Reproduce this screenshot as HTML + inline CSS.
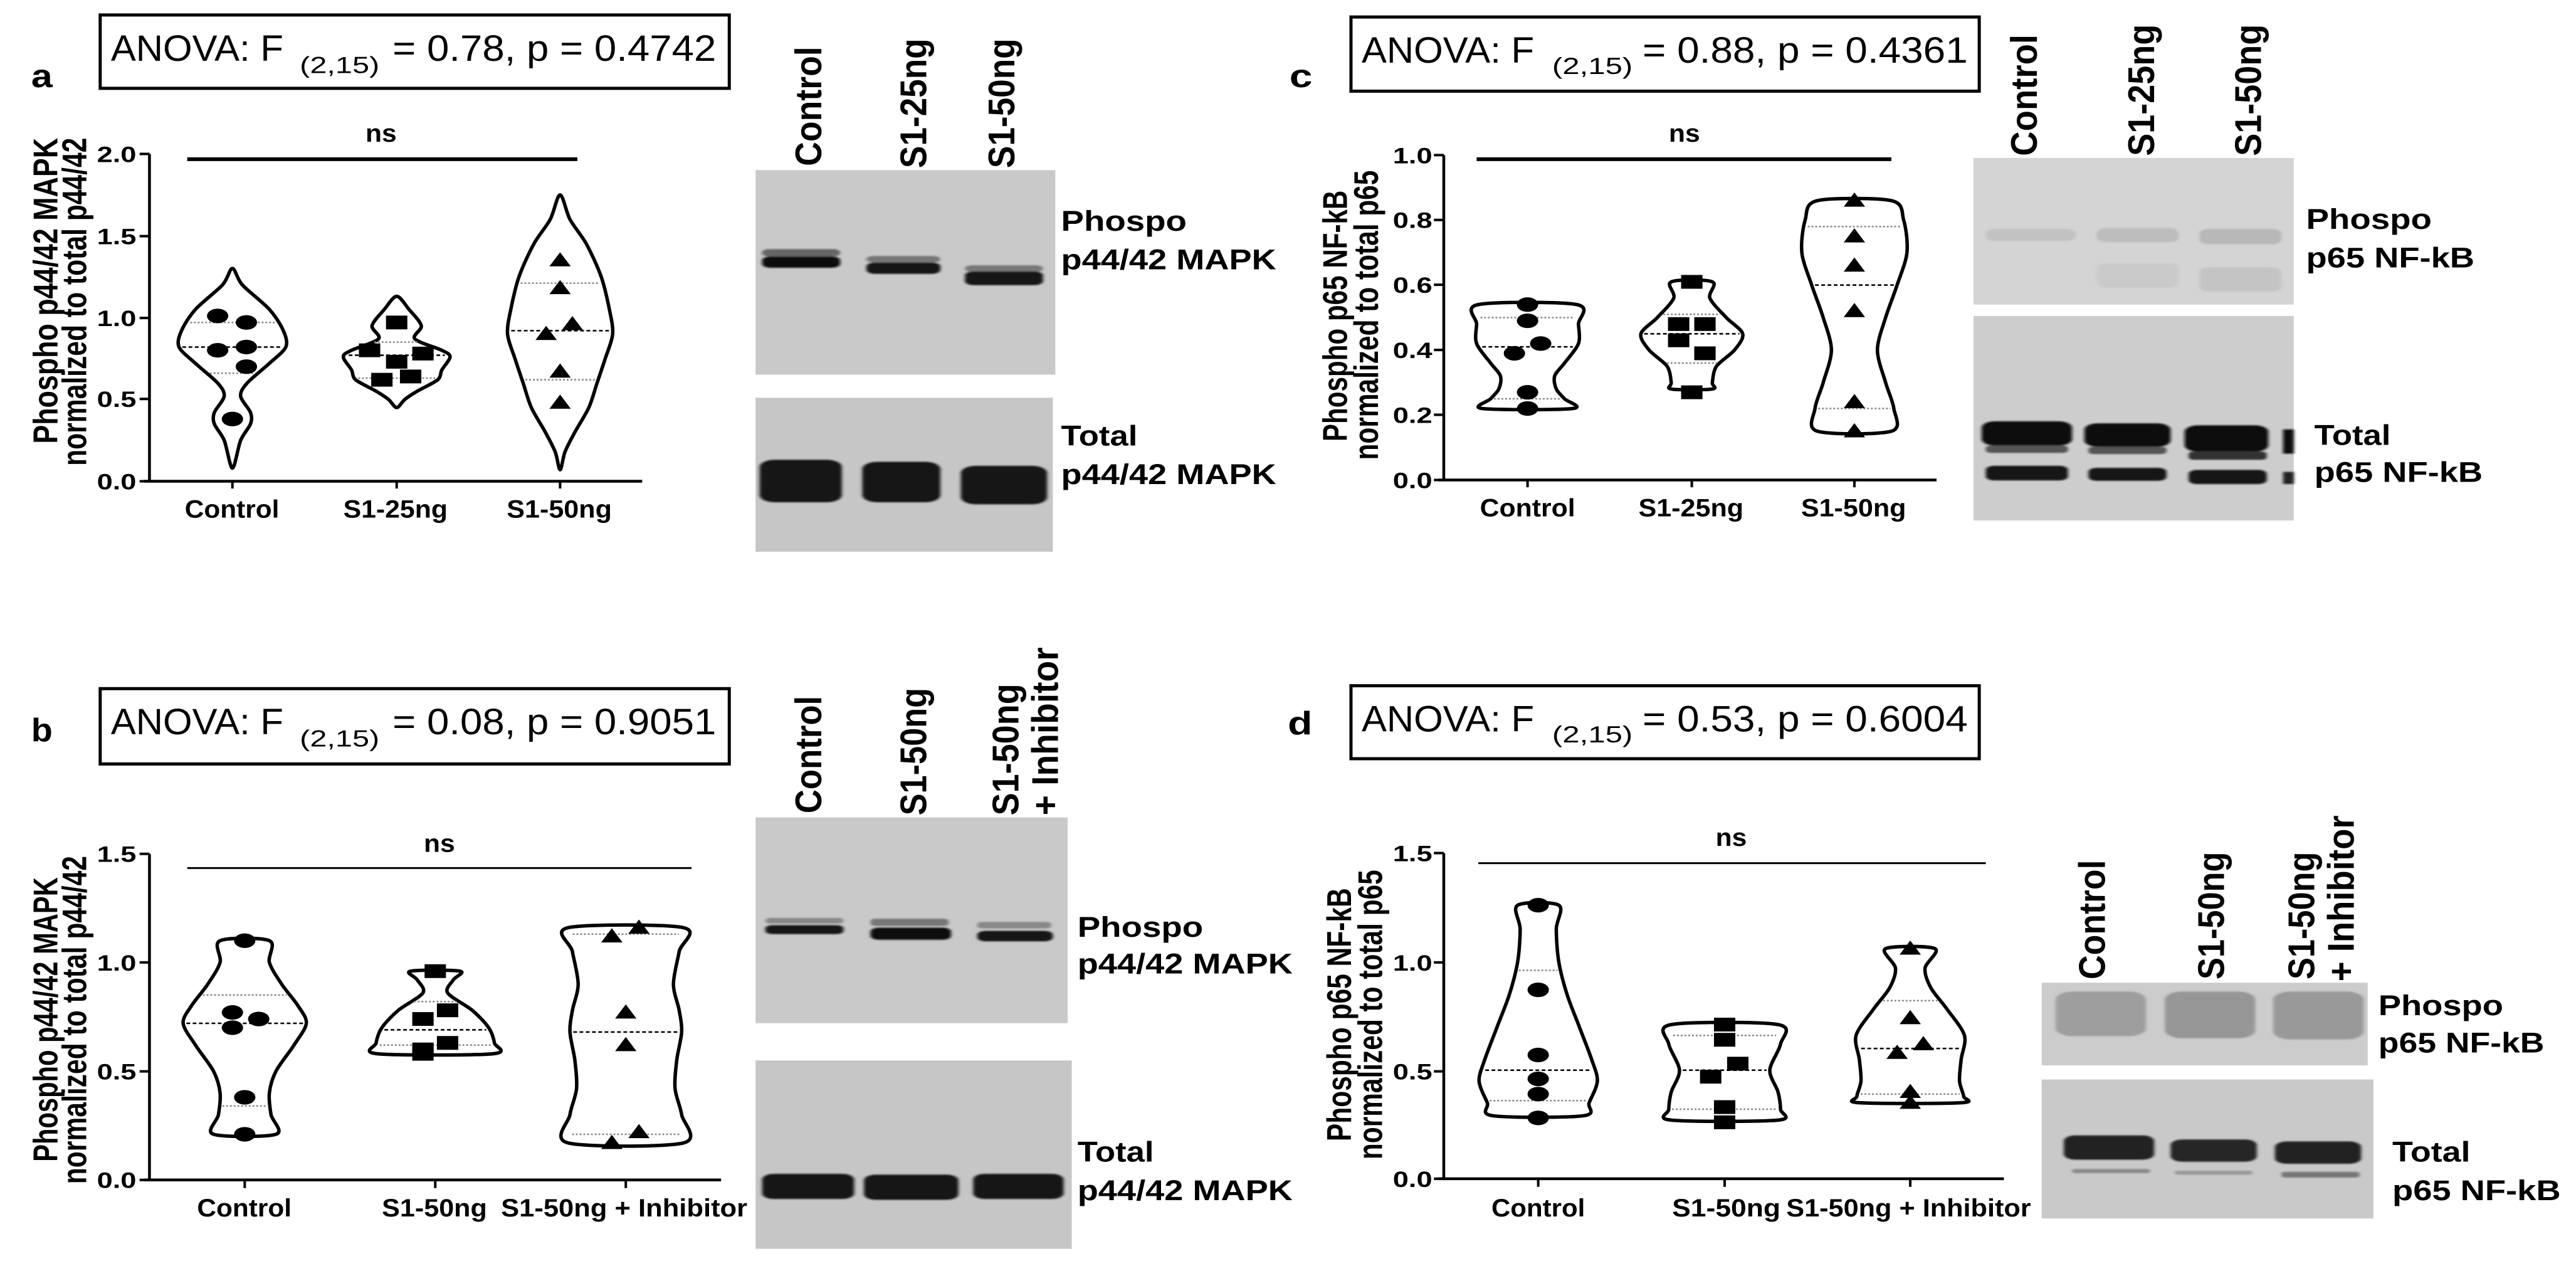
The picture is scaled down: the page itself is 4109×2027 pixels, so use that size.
<!DOCTYPE html>
<html><head><meta charset="utf-8">
<style>
html,body{margin:0;padding:0;background:#fff;}
svg{display:block;}
text{font-family:"Liberation Sans",Arial,sans-serif;fill:#000;}
.b{font-weight:bold;}
.t{font-weight:bold;}
.ln{vector-effect:non-scaling-stroke;fill:none;stroke:#000;}
</style></head>
<body>
<svg id="s" xmlns="http://www.w3.org/2000/svg" width="4109" height="2027" viewBox="0 0 4109 2027">
<defs><filter id="bl" x="-20%" y="-50%" width="140%" height="200%"><feGaussianBlur stdDeviation="2"/></filter></defs>
<rect width="4109" height="2027" fill="#fff"/>

<!-- PANEL A -->
<g id="pa" transform="scale(1.31 0.646)">
<rect x="920" y="420" width="365" height="505" fill="#c9c9c9"/>
<rect x="920" y="982" width="362" height="380" fill="#c6c6c6"/>
<g filter="url(#bl)">
<rect x="928" y="615" width="95" height="18" rx="8" fill="#666"/>
<rect x="928" y="633" width="95" height="28" rx="10" fill="#111"/>
<rect x="1055" y="632" width="90" height="16" rx="8" fill="#777"/>
<rect x="1055" y="648" width="90" height="28" rx="10" fill="#151515"/>
<rect x="1175" y="655" width="95" height="16" rx="8" fill="#777"/>
<rect x="1175" y="670" width="95" height="34" rx="10" fill="#151515"/>
<rect x="925" y="1135" width="100" height="105" rx="18" fill="#141414"/>
<rect x="1050" y="1140" width="95" height="100" rx="18" fill="#141414"/>
<rect x="1170" y="1150" width="105" height="95" rx="18" fill="#141414"/>
</g>
<line class="ln" x1="182" y1="380" x2="182" y2="1188" stroke-width="4.5"/>
<line class="ln" x1="175" y1="1188" x2="782" y2="1188" stroke-width="4.5"/>
<path class="ln" stroke-width="4" d="M170 380H182M170 583H182M170 785H182M170 985H182M170 1188H182M283 1188V1206M483 1188V1206M682 1188V1206"/>
<line class="ln" x1="228" y1="393" x2="703" y2="393" stroke-width="6"/>
<rect class="ln" x="122" y="37" width="766" height="181" stroke-width="5"/>
<text class="b" x="38" y="215" font-size="80" textLength="26" lengthAdjust="spacingAndGlyphs">a</text>
<text x="135" y="150" font-size="90" textLength="210" lengthAdjust="spacingAndGlyphs">ANOVA: F</text>
<text x="365" y="180" font-size="58" textLength="97" lengthAdjust="spacingAndGlyphs">(2,15)</text>
<text x="478" y="150" font-size="90" textLength="394" lengthAdjust="spacingAndGlyphs">= 0.78, p = 0.4742</text>
<text class="t" x="445" y="350" font-size="62" textLength="38" lengthAdjust="spacingAndGlyphs">ns</text>
<text class="t" x="118" y="400" font-size="55" textLength="48" lengthAdjust="spacingAndGlyphs">2.0</text>
<text class="t" x="118" y="603" font-size="55" textLength="48" lengthAdjust="spacingAndGlyphs">1.5</text>
<text class="t" x="118" y="805" font-size="55" textLength="48" lengthAdjust="spacingAndGlyphs">1.0</text>
<text class="t" x="118" y="1005" font-size="55" textLength="48" lengthAdjust="spacingAndGlyphs">0.5</text>
<text class="t" x="118" y="1208" font-size="55" textLength="48" lengthAdjust="spacingAndGlyphs">0.0</text>
<text class="t" x="225" y="1278" font-size="62" textLength="115" lengthAdjust="spacingAndGlyphs">Control</text>
<text class="t" x="418" y="1278" font-size="62" textLength="127" lengthAdjust="spacingAndGlyphs">S1-25ng</text>
<text class="t" x="617" y="1278" font-size="62" textLength="128" lengthAdjust="spacingAndGlyphs">S1-50ng</text>
<text class="b" transform="translate(70 718) rotate(-90)" text-anchor="middle" font-size="42" textLength="755" lengthAdjust="spacingAndGlyphs">Phospho p44/42 MAPK</text>
<text class="b" transform="translate(105 745) rotate(-90)" text-anchor="middle" font-size="42" textLength="810" lengthAdjust="spacingAndGlyphs">normalized to total p44/42</text>
<text class="b" transform="translate(1000 410) rotate(-90)" font-size="45" textLength="295" lengthAdjust="spacingAndGlyphs">Control</text>
<text class="b" transform="translate(1128 415) rotate(-90)" font-size="45" textLength="320" lengthAdjust="spacingAndGlyphs">S1-25ng</text>
<text class="b" transform="translate(1235 415) rotate(-90)" font-size="45" textLength="320" lengthAdjust="spacingAndGlyphs">S1-50ng</text>
<text class="b" x="1292" y="570" font-size="70" textLength="153" lengthAdjust="spacingAndGlyphs">Phospo</text>
<text class="b" x="1292" y="665" font-size="70" textLength="262" lengthAdjust="spacingAndGlyphs">p44/42 MAPK</text>
<text class="b" x="1292" y="1100" font-size="70" textLength="93" lengthAdjust="spacingAndGlyphs">Total</text>
<text class="b" x="1292" y="1195" font-size="70" textLength="262" lengthAdjust="spacingAndGlyphs">p44/42 MAPK</text>
</g>

<!-- PANEL B -->
<g id="pb" transform="scale(1.31 0.646) translate(0 1568)">
<rect x="920" y="450" width="380" height="508" fill="#c9c9c9"/>
<rect x="920" y="1050" width="385" height="465" fill="#c6c6c6"/>
<g filter="url(#bl)">
<rect x="932" y="698" width="95" height="14" rx="6" fill="#888"/>
<rect x="932" y="716" width="95" height="22" rx="8" fill="#151515"/>
<rect x="1060" y="700" width="95" height="18" rx="6" fill="#777"/>
<rect x="1060" y="722" width="98" height="30" rx="10" fill="#111"/>
<rect x="1190" y="708" width="90" height="16" rx="6" fill="#888"/>
<rect x="1190" y="730" width="92" height="26" rx="10" fill="#151515"/>
<rect x="928" y="1330" width="112" height="62" rx="14" fill="#141414"/>
<rect x="1052" y="1332" width="115" height="62" rx="14" fill="#141414"/>
<rect x="1185" y="1330" width="110" height="62" rx="14" fill="#141414"/>
</g>
<line class="ln" x1="182" y1="540" x2="182" y2="1345" stroke-width="4.5"/>
<line class="ln" x1="175" y1="1345" x2="878" y2="1345" stroke-width="4.5"/>
<path class="ln" stroke-width="4" d="M170 540H182M170 808H182M170 1077H182M170 1345H182M298 1345V1365M530 1345V1365M762 1345V1365"/>
<line class="ln" x1="228" y1="575" x2="842" y2="575" stroke-width="3"/>
<rect class="ln" x="122" y="132" width="766" height="186" stroke-width="5"/>
<text class="b" x="38" y="262" font-size="80" textLength="26" lengthAdjust="spacingAndGlyphs">b</text>
<text x="135" y="245" font-size="90" textLength="210" lengthAdjust="spacingAndGlyphs">ANOVA: F</text>
<text x="365" y="275" font-size="58" textLength="97" lengthAdjust="spacingAndGlyphs">(2,15)</text>
<text x="478" y="245" font-size="90" textLength="394" lengthAdjust="spacingAndGlyphs">= 0.08, p = 0.9051</text>
<text class="t" x="516" y="535" font-size="62" textLength="38" lengthAdjust="spacingAndGlyphs">ns</text>
<text class="t" x="118" y="560" font-size="55" textLength="48" lengthAdjust="spacingAndGlyphs">1.5</text>
<text class="t" x="118" y="828" font-size="55" textLength="48" lengthAdjust="spacingAndGlyphs">1.0</text>
<text class="t" x="118" y="1097" font-size="55" textLength="48" lengthAdjust="spacingAndGlyphs">0.5</text>
<text class="t" x="118" y="1365" font-size="55" textLength="48" lengthAdjust="spacingAndGlyphs">0.0</text>
<text class="t" x="240" y="1435" font-size="62" textLength="115" lengthAdjust="spacingAndGlyphs">Control</text>
<text class="t" x="465" y="1435" font-size="62" textLength="128" lengthAdjust="spacingAndGlyphs">S1-50ng</text>
<text class="t" x="610" y="1435" font-size="62" textLength="300" lengthAdjust="spacingAndGlyphs">S1-50ng + Inhibitor</text>
<text class="b" transform="translate(70 949) rotate(-90)" text-anchor="middle" font-size="42" textLength="702" lengthAdjust="spacingAndGlyphs">Phospho p44/42 MAPK</text>
<text class="b" transform="translate(105 950) rotate(-90)" text-anchor="middle" font-size="42" textLength="810" lengthAdjust="spacingAndGlyphs">normalized to total p44/42</text>
<text class="b" transform="translate(1000 440) rotate(-90)" font-size="45" textLength="290" lengthAdjust="spacingAndGlyphs">Control</text>
<text class="b" transform="translate(1128 445) rotate(-90)" font-size="45" textLength="315" lengthAdjust="spacingAndGlyphs">S1-50ng</text>
<text class="b" transform="translate(1240 445) rotate(-90)" font-size="45" textLength="325" lengthAdjust="spacingAndGlyphs">S1-50ng</text>
<text class="b" transform="translate(1288 445) rotate(-90)" font-size="45" textLength="415" lengthAdjust="spacingAndGlyphs">+ Inhibitor</text>
<text class="b" x="1312" y="745" font-size="70" textLength="153" lengthAdjust="spacingAndGlyphs">Phospo</text>
<text class="b" x="1312" y="835" font-size="70" textLength="262" lengthAdjust="spacingAndGlyphs">p44/42 MAPK</text>
<text class="b" x="1312" y="1300" font-size="70" textLength="93" lengthAdjust="spacingAndGlyphs">Total</text>
<text class="b" x="1312" y="1395" font-size="70" textLength="262" lengthAdjust="spacingAndGlyphs">p44/42 MAPK</text>
</g>

<!-- PANEL C -->
<g id="pc" transform="scale(1.31 0.646) translate(1568 0)">
<rect x="835" y="390" width="390" height="362" fill="#d4d4d4"/>
<rect x="835" y="780" width="390" height="505" fill="#cdcdcd"/>
<g filter="url(#bl)">
<rect x="850" y="565" width="110" height="30" rx="12" fill="#c2c2c2"/>
<rect x="985" y="563" width="100" height="35" rx="12" fill="#bdbdbd"/>
<rect x="1110" y="565" width="100" height="38" rx="12" fill="#b8b8b8"/>
<rect x="985" y="650" width="100" height="60" rx="12" fill="#cacaca"/>
<rect x="1110" y="660" width="100" height="60" rx="12" fill="#c4c4c4"/>
<rect x="845" y="1040" width="110" height="60" rx="16" fill="#111"/>
<rect x="850" y="1100" width="100" height="18" rx="6" fill="#555"/>
<rect x="850" y="1150" width="100" height="36" rx="10" fill="#141414"/>
<rect x="970" y="1045" width="105" height="58" rx="16" fill="#111"/>
<rect x="975" y="1103" width="95" height="18" rx="6" fill="#555"/>
<rect x="975" y="1155" width="95" height="32" rx="10" fill="#141414"/>
<rect x="1092" y="1050" width="102" height="65" rx="16" fill="#111"/>
<rect x="1097" y="1115" width="95" height="20" rx="6" fill="#333"/>
<rect x="1097" y="1160" width="95" height="35" rx="10" fill="#141414"/>
<rect x="1212" y="1060" width="13" height="60" fill="#111"/>
<rect x="1212" y="1165" width="13" height="30" fill="#222"/>
</g>
<line class="ln" x1="190" y1="383" x2="190" y2="1185" stroke-width="4.5"/>
<line class="ln" x1="183" y1="1185" x2="790" y2="1185" stroke-width="4.5"/>
<path class="ln" stroke-width="4" d="M178 383H190M178 543H190M178 703H190M178 864H190M178 1024H190M178 1185H190M292 1185V1203M492 1185V1203M690 1185V1203"/>
<line class="ln" x1="230" y1="393" x2="735" y2="393" stroke-width="6"/>
<rect class="ln" x="77" y="42" width="765" height="183" stroke-width="5"/>
<text class="b" x="2" y="215" font-size="80" textLength="28" lengthAdjust="spacingAndGlyphs">c</text>
<text x="90" y="155" font-size="90" textLength="210" lengthAdjust="spacingAndGlyphs">ANOVA: F</text>
<text x="322" y="183" font-size="58" textLength="98" lengthAdjust="spacingAndGlyphs">(2,15)</text>
<text x="432" y="155" font-size="90" textLength="396" lengthAdjust="spacingAndGlyphs">= 0.88, p = 0.4361</text>
<text class="t" x="464" y="350" font-size="62" textLength="38" lengthAdjust="spacingAndGlyphs">ns</text>
<text class="t" x="128" y="403" font-size="55" textLength="48" lengthAdjust="spacingAndGlyphs">1.0</text>
<text class="t" x="128" y="563" font-size="55" textLength="48" lengthAdjust="spacingAndGlyphs">0.8</text>
<text class="t" x="128" y="723" font-size="55" textLength="48" lengthAdjust="spacingAndGlyphs">0.6</text>
<text class="t" x="128" y="884" font-size="55" textLength="48" lengthAdjust="spacingAndGlyphs">0.4</text>
<text class="t" x="128" y="1044" font-size="55" textLength="48" lengthAdjust="spacingAndGlyphs">0.2</text>
<text class="t" x="128" y="1205" font-size="55" textLength="48" lengthAdjust="spacingAndGlyphs">0.0</text>
<text class="t" x="234" y="1275" font-size="62" textLength="116" lengthAdjust="spacingAndGlyphs">Control</text>
<text class="t" x="427" y="1275" font-size="62" textLength="128" lengthAdjust="spacingAndGlyphs">S1-25ng</text>
<text class="t" x="625" y="1275" font-size="62" textLength="128" lengthAdjust="spacingAndGlyphs">S1-50ng</text>
<text class="b" transform="translate(72 780) rotate(-90)" text-anchor="middle" font-size="42" textLength="620" lengthAdjust="spacingAndGlyphs">Phospho p65 NF-kB</text>
<text class="b" transform="translate(110 778) rotate(-90)" text-anchor="middle" font-size="42" textLength="715" lengthAdjust="spacingAndGlyphs">normalized to total p65</text>
<text class="b" transform="translate(912 385) rotate(-90)" font-size="45" textLength="300" lengthAdjust="spacingAndGlyphs">Control</text>
<text class="b" transform="translate(1055 385) rotate(-90)" font-size="45" textLength="325" lengthAdjust="spacingAndGlyphs">S1-25ng</text>
<text class="b" transform="translate(1185 385) rotate(-90)" font-size="45" textLength="325" lengthAdjust="spacingAndGlyphs">S1-50ng</text>
<text class="b" x="1240" y="565" font-size="70" textLength="153" lengthAdjust="spacingAndGlyphs">Phospo</text>
<text class="b" x="1240" y="660" font-size="70" textLength="205" lengthAdjust="spacingAndGlyphs">p65 NF-kB</text>
<text class="b" x="1250" y="1098" font-size="70" textLength="93" lengthAdjust="spacingAndGlyphs">Total</text>
<text class="b" x="1250" y="1190" font-size="70" textLength="205" lengthAdjust="spacingAndGlyphs">p65 NF-kB</text>
</g>

<!-- PANEL D -->
<g id="pd" transform="scale(1.31 0.646) translate(1568 1568)">
<rect x="918" y="858" width="397" height="204" fill="#cccccc"/>
<rect x="918" y="1097" width="404" height="343" fill="#c9c9c9"/>
<g filter="url(#bl)">
<rect x="935" y="880" width="110" height="110" rx="20" fill="#9e9e9e"/>
<rect x="1068" y="880" width="110" height="115" rx="20" fill="#969696"/>
<rect x="1200" y="880" width="110" height="118" rx="20" fill="#999"/>
<rect x="945" y="1235" width="110" height="60" rx="14" fill="#222"/>
<rect x="1075" y="1245" width="105" height="55" rx="14" fill="#262626"/>
<rect x="1202" y="1250" width="105" height="55" rx="14" fill="#222"/>
<rect x="955" y="1318" width="95" height="10" rx="4" fill="#888"/>
<rect x="1080" y="1322" width="95" height="10" rx="4" fill="#999"/>
<rect x="1210" y="1325" width="95" height="14" rx="4" fill="#777"/>
</g>
<line class="ln" x1="190" y1="538" x2="190" y2="1342" stroke-width="4.5"/>
<line class="ln" x1="183" y1="1342" x2="872" y2="1342" stroke-width="4.5"/>
<path class="ln" stroke-width="4" d="M178 538H190M178 808H190M178 1077H190M178 1342H190M305 1342V1362M532 1342V1362M758 1342V1362"/>
<line class="ln" x1="232" y1="563" x2="850" y2="563" stroke-width="3"/>
<rect class="ln" x="77" y="125" width="765" height="180" stroke-width="5"/>
<text class="b" x="0" y="245" font-size="80" textLength="30" lengthAdjust="spacingAndGlyphs">d</text>
<text x="90" y="238" font-size="90" textLength="210" lengthAdjust="spacingAndGlyphs">ANOVA: F</text>
<text x="322" y="265" font-size="58" textLength="98" lengthAdjust="spacingAndGlyphs">(2,15)</text>
<text x="432" y="238" font-size="90" textLength="396" lengthAdjust="spacingAndGlyphs">= 0.53, p = 0.6004</text>
<text class="t" x="521" y="520" font-size="62" textLength="38" lengthAdjust="spacingAndGlyphs">ns</text>
<text class="t" x="128" y="558" font-size="55" textLength="48" lengthAdjust="spacingAndGlyphs">1.5</text>
<text class="t" x="128" y="828" font-size="55" textLength="48" lengthAdjust="spacingAndGlyphs">1.0</text>
<text class="t" x="128" y="1097" font-size="55" textLength="48" lengthAdjust="spacingAndGlyphs">0.5</text>
<text class="t" x="128" y="1362" font-size="55" textLength="48" lengthAdjust="spacingAndGlyphs">0.0</text>
<text class="t" x="248" y="1435" font-size="62" textLength="114" lengthAdjust="spacingAndGlyphs">Control</text>
<text class="t" x="468" y="1435" font-size="62" textLength="132" lengthAdjust="spacingAndGlyphs">S1-50ng</text>
<text class="t" x="607" y="1435" font-size="62" textLength="298" lengthAdjust="spacingAndGlyphs">S1-50ng + Inhibitor</text>
<text class="b" transform="translate(77 937) rotate(-90)" text-anchor="middle" font-size="42" textLength="625" lengthAdjust="spacingAndGlyphs">Phospho p65 NF-kB</text>
<text class="b" transform="translate(115 937) rotate(-90)" text-anchor="middle" font-size="42" textLength="715" lengthAdjust="spacingAndGlyphs">normalized to total p65</text>
<text class="b" transform="translate(995 850) rotate(-90)" font-size="45" textLength="295" lengthAdjust="spacingAndGlyphs">Control</text>
<text class="b" transform="translate(1140 850) rotate(-90)" font-size="45" textLength="315" lengthAdjust="spacingAndGlyphs">S1-50ng</text>
<text class="b" transform="translate(1250 850) rotate(-90)" font-size="45" textLength="315" lengthAdjust="spacingAndGlyphs">S1-50ng</text>
<text class="b" transform="translate(1298 855) rotate(-90)" font-size="45" textLength="410" lengthAdjust="spacingAndGlyphs">+ Inhibitor</text>
<text class="b" x="1328" y="938" font-size="70" textLength="152" lengthAdjust="spacingAndGlyphs">Phospo</text>
<text class="b" x="1328" y="1030" font-size="70" textLength="202" lengthAdjust="spacingAndGlyphs">p65 NF-kB</text>
<text class="b" x="1345" y="1300" font-size="70" textLength="95" lengthAdjust="spacingAndGlyphs">Total</text>
<text class="b" x="1345" y="1395" font-size="70" textLength="205" lengthAdjust="spacingAndGlyphs">p65 NF-kB</text>
</g>
</svg>
<script>
(function(){
var NS='http://www.w3.org/2000/svg';
function el(p,t,a){var e=document.createElementNS(NS,t);for(var k in a)e.setAttribute(k,a[k]);p.appendChild(e);return e;}
function hwAt(pr,v){for(var i=0;i<pr.length-1;i++){var a=pr[i],b=pr[i+1];if(v<=a[0]&&v>=b[0]){var t=(a[0]-v)/(a[0]-b[0]||1);return a[1]+(b[1]-a[1])*t;}}return 0;}
function cr(pts){var n=pts.length,d='M'+pts[0][0]+' '+pts[0][1];
for(var i=0;i<n;i++){var p0=pts[(i-1+n)%n],p1=pts[i],p2=pts[(i+1)%n],p3=pts[(i+2)%n];
var t=0.9/6;
d+='C'+(p1[0]+(p2[0]-p0[0])*t)+' '+(p1[1]+(p2[1]-p0[1])*t)+' '+(p2[0]-(p3[0]-p1[0])*t)+' '+(p2[1]-(p3[1]-p1[1])*t)+' '+p2[0]+' '+p2[1];}
return d+'Z';}
function violin(g,Y,cx,pr,med,q1,q3,pts,shape){
 var R=[],L=[];
 for(var i=0;i<pr.length;i++){var y=Y(pr[i][0]),h=pr[i][1];R.push([cx+h,y]);}
 for(var i=pr.length-1;i>=0;i--){var y=Y(pr[i][0]),h=pr[i][1];if(h>0.5)L.push([cx-h,y]);}
 var all=R.concat(L);
 el(g,'path',{d:cr(all),fill:'#fff',stroke:'#000','stroke-width':5.5,'vector-effect':'non-scaling-stroke'});
 [[q1,'#888','3 3',2.5],[q3,'#888','3 3',2.5],[med,'#000','6 4',2.5]].forEach(function(q){
  var h=hwAt(pr,q[0])-4;var y=Y(q[0]);
  el(g,'line',{x1:cx-h,x2:cx+h,y1:y,y2:y,stroke:q[1],'stroke-dasharray':q[2],'stroke-width':q[3],'vector-effect':'non-scaling-stroke'});});
 pts.forEach(function(p){var x=p[0],y=Y(p[1]);
  if(shape=='c')el(g,'ellipse',{cx:x,cy:y,rx:13,ry:18,fill:'#000'});
  else if(shape=='s')el(g,'rect',{x:x-13,y:y-17,width:26,height:34,fill:'#000'});
  else el(g,'path',{d:'M'+x+' '+(y-20)+'L'+(x+13)+' '+(y+15)+'L'+(x-13)+' '+(y+15)+'Z',fill:'#000'});});
}
var ga=document.getElementById('pa'),gb=document.getElementById('pb'),gc=document.getElementById('pc'),gd=document.getElementById('pd');
var Ya=function(v){return 1188-404*v;},Yb=function(v){return 1345-537*v;},Yc=function(v){return 1185-802*v;},Yd=function(v){return 1342-536*v;};
violin(ga,Ya,283,[[1.3,0],[1.2,12],[1.05,45],[0.92,62],[0.82,65],[0.72,45],[0.6,18],[0.52,10],[0.42,22],[0.35,22],[0.25,10],[0.08,0]],0.82,0.66,0.97,
 [[265,1.01],[300,0.97],[265,0.8],[300,0.82],[300,0.7],[283,0.38]],'c');
violin(ga,Ya,483,[[1.13,0],[1.05,15],[0.95,30],[0.87,22],[0.8,55],[0.76,65],[0.68,55],[0.62,50],[0.55,25],[0.5,10],[0.45,0]],0.77,0.63,0.85,
 [[483,0.97],[450,0.8],[515,0.78],[483,0.73],[465,0.62],[500,0.64]],'s');
violin(ga,Ya,682,[[1.75,0],[1.6,12],[1.45,32],[1.25,50],[1.05,60],[0.9,64],[0.75,55],[0.6,45],[0.45,35],[0.3,18],[0.18,6],[0.07,0]],0.92,0.62,1.21,
 [[682,1.35],[682,1.18],[697,0.96],[665,0.9],[682,0.67],[682,0.48]],'t');
violin(gb,Yb,298,[[1.1,30],[1.0,30],[0.9,45],[0.8,65],[0.72,75],[0.62,60],[0.5,38],[0.4,30],[0.3,32],[0.21,38]],0.72,0.34,0.85,
 [[298,1.1],[283,0.77],[315,0.74],[283,0.7],[298,0.38],[298,0.21]],'c');
violin(gb,Yb,530,[[0.96,30],[0.92,22],[0.86,15],[0.78,45],[0.7,65],[0.63,72],[0.58,70]],0.69,0.62,0.82,
 [[530,0.96],[515,0.74],[545,0.78],[515,0.6],[545,0.63],[515,0.58]],'s');
violin(gb,Yb,762,[[1.16,70],[1.05,65],[0.9,58],[0.78,65],[0.68,68],[0.55,62],[0.42,60],[0.3,68],[0.17,70]],0.68,0.21,1.13,
 [[745,1.12],[778,1.16],[762,0.77],[762,0.62],[778,0.22],[745,0.17]],'t');
violin(gc,Yc,292,[[0.54,60],[0.48,62],[0.42,62],[0.36,45],[0.32,33],[0.28,35],[0.25,45],[0.22,55]],0.41,0.25,0.5,
 [[292,0.54],[292,0.49],[308,0.42],[276,0.39],[292,0.27],[292,0.22]],'c');
violin(gc,Yc,492,[[0.61,25],[0.56,22],[0.5,42],[0.45,62],[0.4,52],[0.35,30],[0.3,25],[0.28,25]],0.45,0.36,0.51,
 [[492,0.61],[476,0.48],[508,0.48],[476,0.43],[508,0.39],[492,0.27]],'s');
violin(gc,Yc,690,[[0.86,45],[0.8,60],[0.7,64],[0.6,52],[0.5,38],[0.4,28],[0.3,38],[0.22,48],[0.15,45]],0.6,0.22,0.78,
 [[690,0.86],[690,0.75],[690,0.66],[690,0.52],[690,0.24],[690,0.15]],'t');
violin(gd,Yd,305,[[1.26,25],[1.15,22],[1.0,25],[0.85,35],[0.7,50],[0.55,65],[0.45,72],[0.35,62],[0.29,55]],0.5,0.36,0.96,
 [[305,1.26],[305,0.87],[305,0.57],[305,0.46],[305,0.39],[305,0.28]],'c');
violin(gd,Yd,532,[[0.71,65],[0.62,68],[0.5,55],[0.4,65],[0.32,68],[0.27,65]],0.5,0.32,0.66,
 [[532,0.71],[532,0.64],[548,0.53],[515,0.47],[532,0.33],[532,0.26]],'s');
violin(gd,Yd,758,[[1.06,30],[0.97,18],[0.88,25],[0.78,45],[0.66,66],[0.55,62],[0.45,60],[0.38,65],[0.35,62]],0.6,0.39,0.82,
 [[758,1.06],[758,0.74],[774,0.62],[742,0.58],[758,0.4],[758,0.35]],'t');
})();
</script>
</body></html>
